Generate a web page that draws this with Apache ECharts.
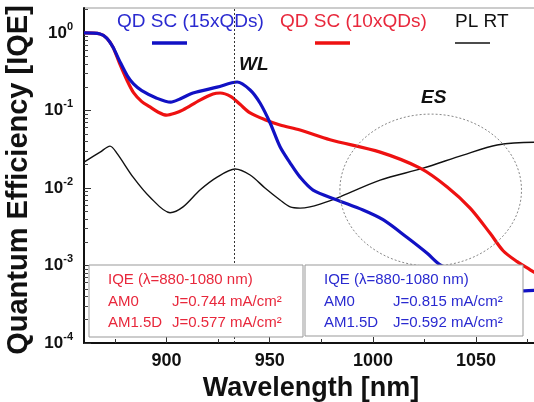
<!DOCTYPE html>
<html>
<head>
<meta charset="utf-8">
<script src="https://cdn.jsdelivr.net/npm/echarts@6/dist/echarts.min.js"></script>
<style>html,body{margin:0;padding:0;background:#fff;}#c{width:534px;height:402px;}</style>
</head>
<body>
<div id="c"></div>
<script>
// ---- data ----
const blueWl  = [860, 867.8, 871, 874, 877, 881, 884, 888, 895, 902, 906.5, 912.8, 924.5, 934.2, 940.5, 945.3, 950.2, 955, 959.9, 964.7, 971, 982.6, 995.2, 1004.9, 1016.6, 1026.3, 1032.6, 1045, 1058, 1070, 1080];
const blueIqe = [1.0, 0.97, 0.86, 0.66, 0.45, 0.28, 0.22, 0.18, 0.145, 0.128, 0.141, 0.168, 0.20, 0.233, 0.184, 0.125, 0.069, 0.034, 0.021, 0.0138, 0.0094, 0.0070, 0.0052, 0.0039, 0.0023, 0.00144, 0.00102, 0.0007, 0.0005, 0.00047, 0.00048];
const redWl   = [860, 867.8, 871, 874, 877, 881, 884, 888, 892, 896, 900, 904, 908, 916.2, 922.5, 926, 931, 935.6, 940.5, 947.7, 955, 964.7, 979.2, 1003.5, 1022.9, 1036, 1047.1, 1056.8, 1063.1, 1069.9, 1076.2, 1080];
const redIqe  = [1.0, 0.97, 0.86, 0.66, 0.42, 0.24, 0.17, 0.13, 0.111, 0.095, 0.087, 0.092, 0.102, 0.136, 0.163, 0.168, 0.152, 0.12, 0.093, 0.076, 0.065, 0.056, 0.042, 0.029, 0.018, 0.0103, 0.0055, 0.0026, 0.00155, 0.00112, 0.00088, 0.00076];
const blackWl = [860, 867.8, 872.6, 876, 883.8, 892, 901.7, 908, 916.2, 924.5, 933.2, 940.5, 947.7, 955, 959.9, 964.7, 969.5, 974.4, 982.6, 1003.5, 1024.3, 1043.7, 1060.2, 1078, 1080];
const blackIqe= [0.0216, 0.029, 0.0347, 0.028, 0.0138, 0.0076, 0.0048, 0.0057, 0.0094, 0.0138, 0.0176, 0.0147, 0.0100, 0.0070, 0.0057, 0.0055, 0.0057, 0.0062, 0.0074, 0.0126, 0.018, 0.0266, 0.0359, 0.039, 0.039];

const seriesNames = ['QD SC (15xQDs)', 'QD SC (10xQDs)', 'PL RT'];
const xMajorTicks = [900, 950, 1000, 1050];
const xMinorTicks = [875, 925, 975, 1025, 1075];
const yMajorTicks = [1e-4, 1e-3, 1e-2, 1e-1, 1];
const yMinorTicks = [];
[1e-4, 1e-3, 1e-2, 1e-1, 1].forEach(d => { for (let m = 2; m <= 9; m++) { const v = m * d; if (v < 2.1) yMinorTicks.push(v); } });
const wlMarker = 933;
const esCenter = [1028, 0.0094];
const esRadiusNm = 44;
const esRadiusDec = 0.98;
const boxRed = ['IQE (\u03bb=880-1080 nm)', 'AM0', 'J=0.744 mA/cm\u00b2', 'AM1.5D', 'J=0.577 mA/cm\u00b2'];
const boxBlue = ['IQE (\u03bb=880-1080 nm)', 'AM0', 'J=0.815 mA/cm\u00b2', 'AM1.5D', 'J=0.592 mA/cm\u00b2'];

const zip = (a, b) => a.map((v, i) => [v, b[i]]);
const FONT = 'Liberation Sans, Arial, Helvetica, sans-serif';
const BLUE = '#1111c4', RED = '#ee1111';
const BLUE_T = '#2a2ad0', RED_T = '#e8283c';

const chart = echarts.init(document.getElementById('c'), null, {renderer: 'canvas'});

const gridLeft = 84, gridTop = 8, gridW = 454, gridH = 335;

const option = {
  animation: false,
  backgroundColor: '#fff',
  textStyle: {fontFamily: FONT},
  grid: {left: gridLeft, top: gridTop, width: gridW, height: gridH, containLabel: false, outerBoundsMode: 'none',
         show: true, borderColor: '#999', borderWidth: 1, backgroundColor: 'transparent'},
  xAxis: [{
    type: 'value', min: 860, max: 1080,
    name: 'Wavelength [nm]', nameLocation: 'middle', nameGap: 31,
    nameTextStyle: {fontFamily: FONT, fontWeight: 'bold', fontSize: 27, color: '#111'},
    axisLine: {show: true, onZero: false, lineStyle: {color: '#111', width: 2}},
    axisTick: {show: true, inside: true, length: 6, customValues: xMajorTicks, lineStyle: {color: '#333', width: 1}},
    axisLabel: {customValues: xMajorTicks, margin: 9, formatter: v => String(v), fontFamily: FONT, fontWeight: 'bold', fontSize: 18, color: '#111'},
    splitLine: {show: false}
  }, {
    type: 'value', min: 860, max: 1080, position: 'bottom',
    axisLine: {show: false},
    axisTick: {show: true, inside: true, length: 4, customValues: xMinorTicks, lineStyle: {color: '#333', width: 1}},
    axisLabel: {show: false}, splitLine: {show: false}
  }],
  yAxis: [{
    type: 'log', logBase: 10, min: 1e-4, max: 2.1,
    name: 'Quantum Efficiency [IQE]', nameLocation: 'middle', nameGap: 47,
    nameTextStyle: {fontFamily: FONT, fontWeight: 'bold', fontSize: 29, color: '#111', padding: [0, 9, 0, 0]},
    axisLine: {show: true, lineStyle: {color: '#111', width: 2}},
    axisTick: {show: true, inside: true, length: 7, customValues: yMajorTicks, lineStyle: {color: '#333', width: 1}},
    axisLabel: {
      customValues: yMajorTicks, margin: 11,
      formatter: function (v) {
        const l = Math.log10(v); const e = Math.round(l);
        if (Math.abs(l - e) > 1e-6) return '';
        return '{b|10}{s|' + (e < 0 ? '-' + (-e) : e) + '}';
      },
      rich: {
        b: {fontFamily: FONT, fontWeight: 'bold', fontSize: 17, color: '#111', lineHeight: 24, verticalAlign: 'middle'},
        s: {fontFamily: FONT, fontWeight: 'bold', fontSize: 11, color: '#111', lineHeight: 12, verticalAlign: 'top'}
      }
    },
    splitLine: {show: false}
  }, {
    type: 'log', logBase: 10, min: 1e-4, max: 2.1, position: 'left',
    axisLine: {show: false},
    axisTick: {show: true, inside: true, length: 4, customValues: yMinorTicks, lineStyle: {color: '#444', width: 1}},
    axisLabel: {show: false}, splitLine: {show: false}
  }],
  series: [{
    name: seriesNames[2], type: 'line', data: zip(blackWl, blackIqe), smooth: 0.3, showSymbol: false,
    lineStyle: {color: '#111', width: 1.4}, z: 2,
    markLine: {
      silent: true, symbol: ['none', 'none'], label: {show: false},
      lineStyle: {color: '#333', type: [2, 2], width: 1},
      data: [{xAxis: wlMarker}]
    }
  }, {
    name: seriesNames[1], type: 'line', data: zip(redWl, redIqe), smooth: 0.3, showSymbol: false,
    lineStyle: {color: RED, width: 3.2}, z: 3
  }, {
    name: seriesNames[0], type: 'line', data: zip(blueWl, blueIqe), smooth: 0.3, showSymbol: false,
    lineStyle: {color: BLUE, width: 3.2}, z: 4
  }]
};
chart.setOption(option);

// ---- annotations ----
const c = chart.convertToPixel({gridIndex: 0}, esCenter);
const ex = chart.convertToPixel({gridIndex: 0}, [esCenter[0] + esRadiusNm, esCenter[1]]);
const ey = chart.convertToPixel({gridIndex: 0}, [esCenter[0], esCenter[1] * Math.pow(10, esRadiusDec)]);
const rx = ex[0] - c[0], ry = c[1] - ey[1];

function txt(x, y, text, color, size, extra) {
  return {type: 'text', x: x, y: y, z: 100,
    style: {text: text, fill: color, font: (extra || '') + ' ' + size + 'px ' + FONT, textVerticalAlign: 'middle', textAlign: 'left'}};
}
const g = [];
g.push({type: 'ellipse', z: 50, shape: {cx: c[0], cy: c[1], rx: rx, ry: ry}, style: {fill: 'none', stroke: '#888', lineWidth: 1, lineDash: [2, 2]}});
g.push(txt(239, 65, 'WL', '#111', 19, 'italic bold'));
g.push(txt(421, 98, 'ES', '#111', 19, 'italic bold'));
const legendItems = [
  {x: 117, lx: 152, name: seriesNames[0], color: BLUE_T, lc: BLUE, lw: 3.5},
  {x: 280, lx: 315, name: seriesNames[1], color: RED_T, lc: RED, lw: 3.5},
  {x: 455, lx: 455, name: seriesNames[2], color: '#111', lc: '#111', lw: 1.5}
];
legendItems.forEach(it => {
  g.push(txt(it.x, 22, it.name, it.color, 19, 'normal'));
  g.push({type: 'line', z: 100, shape: {x1: it.lx, y1: 43, x2: it.lx + 35, y2: 43}, style: {stroke: it.lc, lineWidth: it.lw}});
});
function box(x, y, w, h, lines, color, jx) {
  g.push({type: 'rect', z: 90, shape: {x: x, y: y, width: w, height: h}, style: {fill: '#fff', stroke: '#999', lineWidth: 1}});
  g.push(txt(x + 19, y + 15, lines[0], color, 15, 'normal'));
  g.push(txt(x + 19, y + 37, lines[1], color, 15, 'normal'));
  g.push(txt(jx, y + 37, lines[2], color, 15, 'normal'));
  g.push(txt(x + 19, y + 58, lines[3], color, 15, 'normal'));
  g.push(txt(jx, y + 58, lines[4], color, 15, 'normal'));
}
box(89, 265, 214, 72, boxRed, RED_T, 172);
box(305, 265, 218, 71, boxBlue, BLUE_T, 393);

chart.setOption({graphic: g});
</script>
</body>
</html>
